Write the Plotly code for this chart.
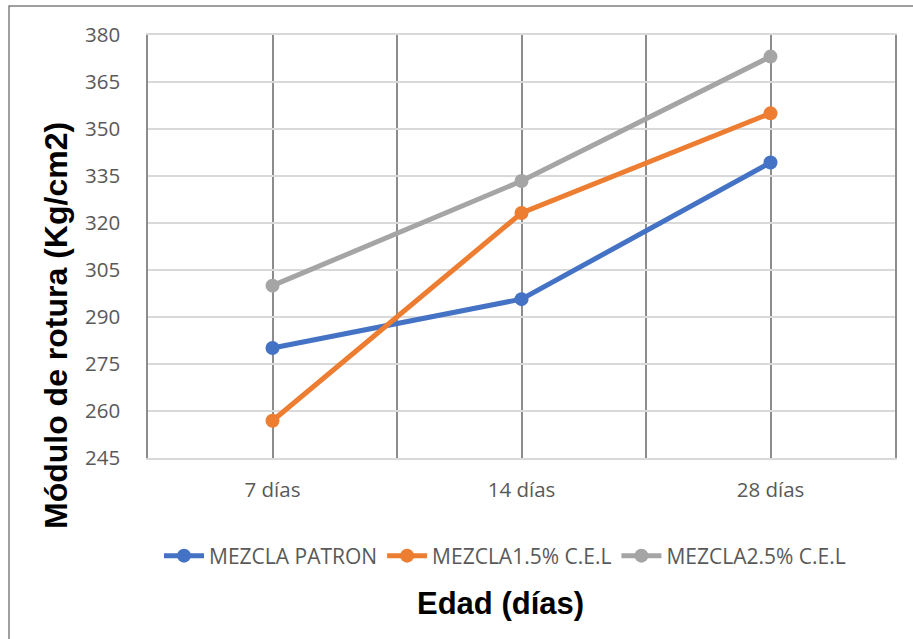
import plotly.graph_objects as go

categories = ["7 días", "14 días", "28 días"]
patron = [280.1, 295.7, 339.3]
mezcla15 = [256.9, 323.2, 355.0]
mezcla25 = [300.0, 333.4, 373.1]
series_names = ["MEZCLA PATRON", "MEZCLA1.5% C.E.L", "MEZCLA2.5% C.E.L"]
series_colors = ["#4472C4", "#ED7D31", "#A5A5A5"]
y_ticks = [245, 260, 275, 290, 305, 320, 335, 350, 365, 380]

W, H = 913, 639
L, R, T, B = 148, 18, 35, 181
pw, ph = W - L - R, H - T - B

def px_x(p):
    return (p - L) / pw

def px_y(p):
    return (H - B - p) / ph

xpos = list(range(len(categories)))
fig = go.Figure()
for name, vals, col in zip(series_names, [patron, mezcla15, mezcla25], series_colors):
    fig.add_trace(go.Scatter(
        x=xpos, y=vals, name=name, mode="lines+markers",
        line=dict(color=col, width=5),
        marker=dict(color=col, size=14),
    ))

grid_vals = [-0.5, 0, 0.5, 1, 1.5, 2, 2.5]
grid_text = ["", categories[0], "", categories[1], "", categories[2], ""]

tick_font = dict(family="Open Sans", size=20.5, color="#595959")

fig.update_layout(
    width=W, height=H,
    margin=dict(l=L, r=R, t=T, b=B, pad=0),
    paper_bgcolor="white", plot_bgcolor="white",
    font=tick_font,
    xaxis=dict(
        range=[-0.5, 2.5], tickvals=grid_vals, ticktext=grid_text,
        showgrid=True, gridcolor="#8c8c8c", gridwidth=1.5,
        showline=True, linecolor="#d9d9d9", linewidth=1.5, mirror=True,
        ticks="", ticklabelstandoff=13, zeroline=False,
        tickfont=tick_font,
    ),
    yaxis=dict(
        range=[245, 380], tickvals=y_ticks,
        showgrid=True, gridcolor="#d9d9d9", gridwidth=1.5,
        showline=True, linecolor="#8c8c8c", linewidth=1.5, mirror=True,
        ticks="", ticklabelstandoff=22, zeroline=False,
        tickfont=tick_font,
    ),
    legend=dict(
        orientation="h", x=px_x(505), y=px_y(556), xanchor="center", yanchor="middle",
        font=dict(family="Open Sans", size=21, color="#595959"),
        itemwidth=40, tracegroupgap=0, bgcolor="rgba(0,0,0,0)",
    ),
    showlegend=True,
    annotations=[
        dict(text="<b>Edad (días)</b>", xref="paper", yref="paper",
             x=px_x(500), y=px_y(603), xanchor="center", yanchor="middle",
             showarrow=False, font=dict(family="Arial", size=31, color="black")),
        dict(text="<b>Módulo de rotura (Kg/cm2)</b>", xref="paper", yref="paper",
             x=px_x(56), y=px_y(326), xanchor="center", yanchor="middle",
             textangle=-90, showarrow=False,
             font=dict(family="Arial", size=32, color="black")),
    ],
    shapes=[
        dict(type="rect", xref="paper", yref="paper",
             x0=px_x(9), x1=px_x(925), y0=px_y(650), y1=px_y(6),
             line=dict(color="#808080", width=1.5), fillcolor="rgba(0,0,0,0)",
             layer="below"),
    ],
)

fig.write_html("out.html")
